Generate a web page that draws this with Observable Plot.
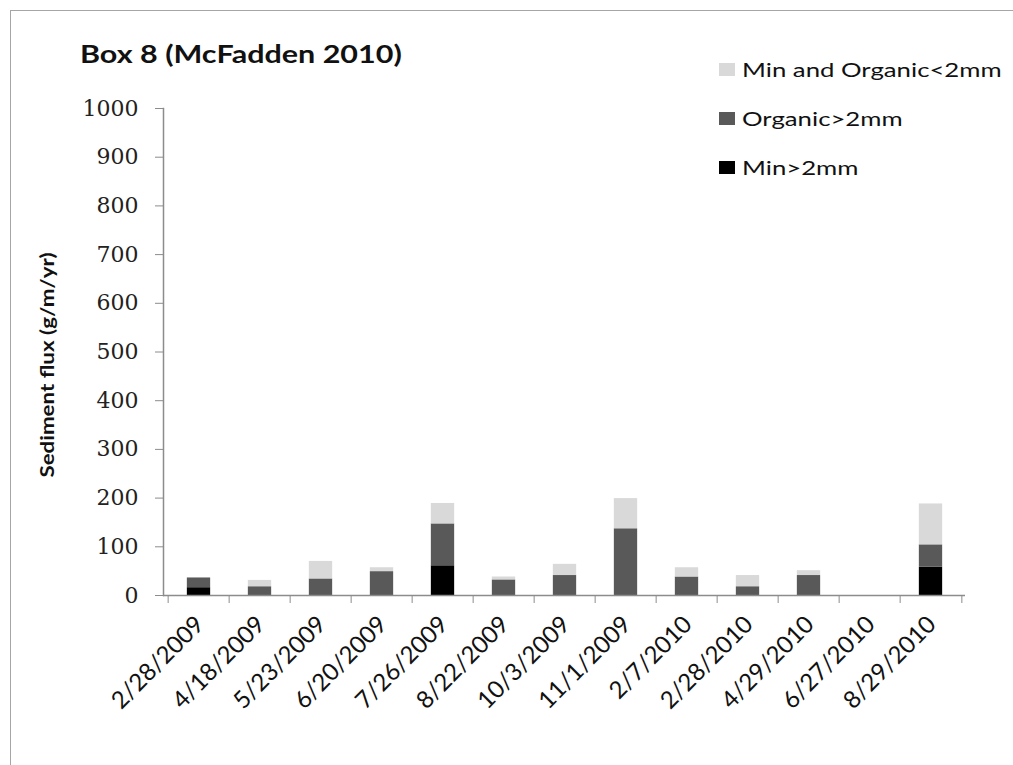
<!DOCTYPE html>
<html>
<head>
<meta charset="utf-8">
<script src="https://cdn.jsdelivr.net/npm/d3@7"></script>
<script src="https://cdn.jsdelivr.net/npm/@observablehq/plot@0.6"></script>
<style>
  body { margin: 0; background: #fff; }
  #wrap { position: relative; width: 1013px; height: 765px; overflow: hidden; background: #fff; }
  #frame { position: absolute; left: 10px; top: 10px; width: 1100px; height: 900px;
           border-left: 1.5px solid #a6a6a6; border-top: 1.5px solid #a6a6a6; }
  #chart { position: absolute; left: 0; top: 0; }
  #title { position: absolute; left: 80px; top: 38px; font: bold 25px Lato, sans-serif; color: #111;
           white-space: nowrap; transform: scaleX(1.22); transform-origin: 0 50%; }
  #ylabel { position: absolute; left: 47px; top: 365px; transform: translate(-50%, -50%) rotate(-90deg) scaleX(1.24);
            font: bold 18px Lato, sans-serif; color: #111; white-space: nowrap; }
  .leg { position: absolute; left: 719px; color: #111; white-space: nowrap; display: flex; align-items: center; }
  .leg span.sw { display: inline-block; width: 16px; height: 13px; margin-right: 7px; }
  .leg span.tx { display: inline-block; font: 19.5px Lato, sans-serif; transform: scaleX(1.32); transform-origin: 0 50%; }
</style>
</head>
<body>
<div id="wrap">
  <div id="frame"></div>
  <div id="chart"></div>
  <div id="title"></div>
  <div id="ylabel"></div>
  <div id="legend"></div>
</div>
<script>
const titleText = "Box 8 (McFadden 2010)";
const yLabel = "Sediment flux (g/m/yr)";
const dates = ["2/28/2009","4/18/2009","5/23/2009","6/20/2009","7/26/2009","8/22/2009","10/3/2009","11/1/2009","2/7/2010","2/28/2010","4/29/2010","6/27/2010","8/29/2010"];
const minCoarse = [16, 0, 0, 0, 61, 0, 0, 0, 0, 0, 0, 0, 58];
const orgCoarse = [20, 18, 34, 49, 86, 32, 41, 137, 38, 18, 41, 0, 46];
const fineAll   = [0, 13, 36, 8, 42, 6, 23, 62, 19, 23, 10, 0, 84];
const seriesNames = ["Min>2mm", "Organic>2mm", "Min and Organic<2mm"];
const seriesColors = ["#000000", "#595959", "#d9d9d9"];
const yTicks = [0,100,200,300,400,500,600,700,800,900,1000];

const seriesValues = [minCoarse, orgCoarse, fineAll];
const rows = [];
dates.forEach((d, i) => {
  seriesNames.forEach((s, j) => rows.push({date: d, series: s, value: seriesValues[j][i]}));
});

const W = 1013, H = 765;
const mL = 163, mR = 48, mT = 108, mB = 170;
const step = (W - mL - mR) / dates.length;
const barW = 24;
const inset = (step - barW) / 2;
const axisColor = "#8c8c8c";

const chart = Plot.plot({
  width: W, height: H,
  marginLeft: mL, marginRight: mR, marginTop: mT, marginBottom: mB,
  style: {background: "transparent", color: "#111"},
  x: {type: "band", domain: dates, padding: 0, axis: null},
  y: {domain: [0, 1000], axis: null},
  color: {domain: seriesNames, range: seriesColors},
  marks: [
    Plot.barY(rows, {x: "date", y: "value", fill: "series", insetLeft: inset, insetRight: inset}),
    Plot.frame({anchor: "left", stroke: axisColor, strokeWidth: 1.5}),
    Plot.ruleY([0], {stroke: axisColor, strokeWidth: 1.5}),
    Plot.axisY({ticks: yTicks, tickSize: 8, tickPadding: 17, stroke: axisColor, label: null,
                fontFamily: "DejaVu Serif", fontSize: 22, fill: "#222", tickFormat: d => String(d)}),
    Plot.axisX({ticks: dates, tickSize: 8, dx: -step / 2, stroke: axisColor, label: null, tickFormat: () => ""}),
    Plot.axisX({ticks: [dates[dates.length - 1]], tickSize: 8, dx: step / 2, stroke: axisColor, label: null, tickFormat: () => ""}),
    Plot.axisX({ticks: dates, tickSize: 0, tickPadding: 25, tickRotate: -45, dx: 1, label: null,
                fontFamily: "Lato", fontSize: 24, fill: "#111"})
  ]
});
document.getElementById("chart").appendChild(chart);
document.getElementById("title").textContent = titleText;
document.getElementById("ylabel").textContent = yLabel;

const legendTops = [58, 107, 156];
const legendOrder = [2, 1, 0];
const legend = document.getElementById("legend");
legendOrder.forEach((j, k) => {
  const div = document.createElement("div");
  div.className = "leg";
  div.style.top = legendTops[k] + "px";
  const sw = document.createElement("span");
  sw.className = "sw";
  sw.style.background = seriesColors[j];
  const tx = document.createElement("span");
  tx.className = "tx";
  tx.textContent = seriesNames[j];
  div.appendChild(sw);
  div.appendChild(tx);
  legend.appendChild(div);
});
</script>
</body>
</html>
